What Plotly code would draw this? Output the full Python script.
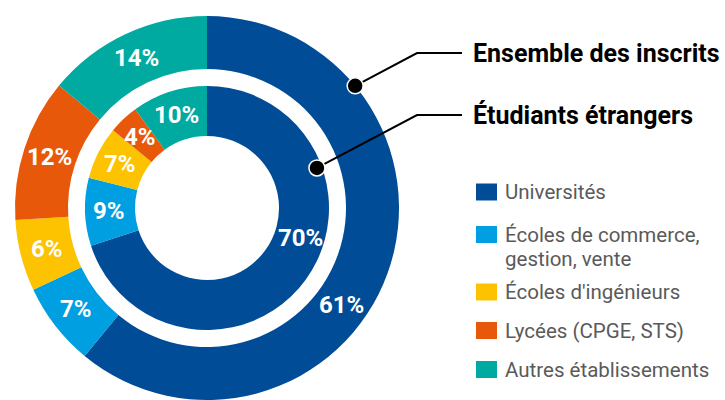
import math
import plotly.graph_objects as go

# Répartition des étudiants par type d'établissement (%)
categories = [
    "Universités",
    "Écoles de commerce, gestion, vente",
    "Écoles d'ingénieurs",
    "Lycées (CPGE, STS)",
    "Autres établissements",
]
legend_lines = [
    ["Universités"],
    ["Écoles de commerce,", "gestion, vente"],
    ["Écoles d'ingénieurs"],
    ["Lycées (CPGE, STS)"],
    ["Autres établissements"],
]
ensemble_inscrits = [61, 7, 6, 12, 14]
etudiants_etrangers = [70, 9, 7, 4, 10]
colors = ["#004C97", "#009FE1", "#FDC200", "#E8580B", "#00AAA0"]

W, H = 725, 400
CX, CY = 207, 208            # centre of both rings (pixels from top-left)
R_OUT, HOLE_OUT = 192, 139   # outer ring
R_IN, HOLE_IN = 122, 72      # inner ring

BOLD = dict(family="Roboto", weight=700)


def dom_x(r):
    return [(CX - r) / W, (CX + r) / W]


def dom_y(r):
    return [(H - CY - r) / H, (H - CY + r) / H]


fig = go.Figure()

fig.add_trace(go.Pie(
    labels=categories, values=ensemble_inscrits, sort=False,
    direction="clockwise", rotation=0, hole=HOLE_OUT / R_OUT,
    marker=dict(colors=colors, line=dict(width=0)),
    textinfo="none", hoverinfo="label+percent", showlegend=False,
    domain=dict(x=dom_x(R_OUT), y=dom_y(R_OUT)),
))
fig.add_trace(go.Pie(
    labels=categories, values=etudiants_etrangers, sort=False,
    direction="clockwise", rotation=0, hole=HOLE_IN / R_IN,
    marker=dict(colors=colors, line=dict(width=0)),
    textinfo="none", hoverinfo="label+percent", showlegend=False,
    domain=dict(x=dom_x(R_IN), y=dom_y(R_IN)),
))

# invisible pixel-space axes for the labels, callouts and legend
fig.update_xaxes(range=[0, W], visible=False, fixedrange=True)
fig.update_yaxes(range=[H, 0], visible=False, fixedrange=True)


def polar(angle_deg, r):
    a = math.radians(angle_deg)
    return CX + r * math.cos(a), CY - r * math.sin(a)


# percentage labels inside each ring; the large first slice gets its label nudged
label_shift = {"outer": {0: -16}, "inner": {0: 18}}
rings = [
    ("outer", ensemble_inscrits, (R_OUT + HOLE_OUT) / 2),
    ("inner", etudiants_etrangers, (R_IN + HOLE_IN) / 2 + 1),
]
annotations = []
for name, values, r_mid in rings:
    total = sum(values)
    cum = 0
    for i, v in enumerate(values):
        ang = 90 - 360 * (cum + v / 2) / total + label_shift[name].get(i, 0)
        cum += v
        x, y = polar(ang, r_mid)
        annotations.append(dict(
            x=x, y=y, xref="x", yref="y", text=f"{v}%", showarrow=False,
            font=dict(size=24, color="white", **BOLD),
            xanchor="center", yanchor="middle",
        ))

# callouts naming the two rings
shapes = []
callouts = [
    ("Ensemble des inscrits", 39.5, R_OUT, 53),
    ("Étudiants étrangers", 20, R_IN - 5, 115),
]
for text, ang, r, ty in callouts:
    dx, dy = polar(ang, r)
    elbow_x, end_x = 417, 462
    shapes.append(dict(type="path", xref="x", yref="y",
                       path=f"M{dx},{dy} L{elbow_x},{ty} L{end_x},{ty}",
                       line=dict(color="black", width=2), layer="above"))
    shapes.append(dict(type="circle", xref="x", yref="y",
                       x0=dx - 8, x1=dx + 8, y0=dy - 8, y1=dy + 8,
                       fillcolor="black", line=dict(color="white", width=1.5),
                       layer="above"))
    annotations.append(dict(
        x=471, y=ty, xref="x", yref="y", text=text, showarrow=False,
        font=dict(size=25, color="black", **BOLD),
        xanchor="left", yanchor="middle",
    ))

# legend
legend_y = [192, 234.5, 292, 330.5, 369.5]
for lines, col, ly in zip(legend_lines, colors, legend_y):
    shapes.append(dict(type="rect", xref="x", yref="y",
                       x0=476, x1=497, y0=ly - 8.5, y1=ly + 8.5,
                       fillcolor=col, line=dict(width=0)))
    for k, line in enumerate(lines):
        annotations.append(dict(
            x=503, y=ly + 24.5 * k, xref="x", yref="y", text=line,
            showarrow=False, font=dict(size=20.5, color="#5A5A5A", family="Roboto"),
            xanchor="left", yanchor="middle",
        ))

fig.update_layout(
    width=W, height=H,
    margin=dict(l=0, r=0, t=0, b=0),
    paper_bgcolor="white", plot_bgcolor="white",
    shapes=shapes, annotations=annotations,
)

fig.write_html("out.html")
